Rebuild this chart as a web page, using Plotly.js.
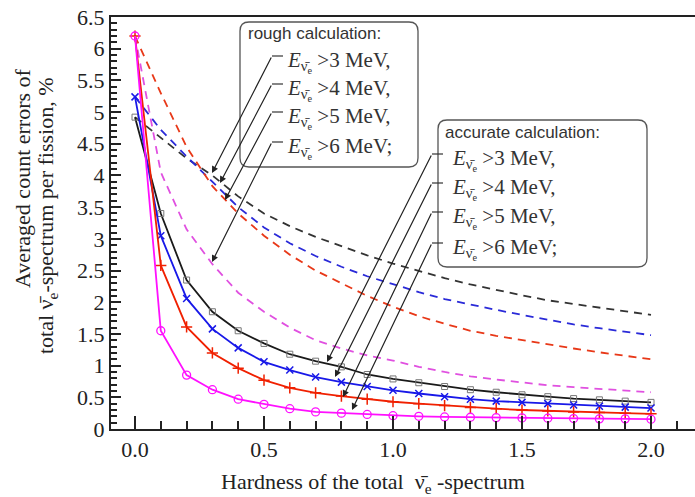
<!DOCTYPE html>
<html><head><meta charset="utf-8">
<script src="https://cdn.plot.ly/plotly-3.0.1.min.js"></script>
<style>html,body{margin:0;padding:0;background:#fff}.modebar-container{display:none!important}</style>
</head><body><div id="chart" style="width:695px;height:497px"></div>
<pre id="dbg" style="position:absolute;left:575px;top:462px;font-size:7px;line-height:8px;color:#888;white-space:pre-wrap;width:118px;margin:0;display:none"></pre>
<script>
// ---- data ----
var hardness = [0.0,0.1,0.2,0.3,0.4,0.5,0.6,0.7,0.8,0.9,1.0,1.1,1.2,1.3,1.4,1.5,1.6,1.7,1.8,1.9,2.0];
// accurate calculation (solid lines with markers)
var accurate3 = [4.92,3.40,2.35,1.85,1.55,1.35,1.18,1.07,0.98,0.86,0.79,0.73,0.67,0.62,0.58,0.54,0.51,0.48,0.46,0.44,0.42];
var accurate4 = [5.24,3.05,2.06,1.58,1.28,1.06,0.93,0.82,0.74,0.67,0.61,0.56,0.51,0.47,0.44,0.42,0.40,0.38,0.36,0.345,0.33];
var accurate5 = [6.20,2.58,1.61,1.20,0.96,0.77,0.65,0.57,0.52,0.47,0.43,0.40,0.37,0.34,0.32,0.30,0.285,0.27,0.26,0.25,0.24];
var accurate6 = [6.20,1.55,0.85,0.62,0.47,0.39,0.32,0.27,0.25,0.23,0.21,0.20,0.19,0.185,0.18,0.175,0.17,0.165,0.16,0.16,0.155];
// rough calculation (dashed lines)
var rough3 = [4.92,4.60,4.27,4.00,3.67,3.40,3.20,3.03,2.88,2.74,2.61,2.49,2.38,2.28,2.19,2.11,2.03,1.97,1.91,1.85,1.80];
var rough4 = [5.24,4.72,4.30,3.90,3.50,3.18,2.93,2.73,2.56,2.41,2.28,2.16,2.05,1.96,1.88,1.80,1.72,1.65,1.59,1.53,1.48];
var rough5 = [6.20,5.30,4.45,3.83,3.40,3.05,2.75,2.50,2.30,2.10,1.93,1.78,1.66,1.55,1.47,1.40,1.33,1.27,1.21,1.15,1.10];
var rough6 = [6.20,4.05,3.15,2.60,2.15,1.85,1.60,1.40,1.27,1.16,1.08,0.98,0.90,0.83,0.78,0.73,0.69,0.66,0.63,0.60,0.58];
var thresholds = ['>3 MeV,','>4 MeV,','>5 MeV,','>6 MeV;'];

(function(){
var dbg=[]; function note(s){dbg.push(s);}
function flush(){ if(dbg.length){var e=document.getElementById('dbg');e.style.display='block';e.textContent=dbg.join('\n');} }
window.onerror=function(m,s,l,c){note('ERR '+m+' @'+l);flush();};

var SERIF = 'Liberation Serif';
var SANS = 'Liberation Sans';
var solidColors = ['#1a1a1a','#1818e8','#f02000','#ff10ff'];
var dashColors = ['#333333','#2a2ad8','#e83818','#e050e0'];
var markerStyles = [
  {symbol:'square-open', size:6, color:'#777'},
  {symbol:'x-thin-open', size:7, color:'#1818e8', line:{width:1.5,color:'#1818e8'}},
  {symbol:'cross-thin-open', size:8, color:'#f02000', line:{width:1.5,color:'#f02000'}},
  {symbol:'circle-open', size:8, color:'#ff10ff', line:{width:1.3,color:'#ff10ff'}}
];
var accurate = [accurate3,accurate4,accurate5,accurate6];
var rough = [rough3,rough4,rough5,rough6];

var data = [];
rough.forEach(function(ys,i){data.push({x:hardness,y:ys,type:'scatter',mode:'lines',
  line:{color:dashColors[i],width:1.8,dash:'8px,6px'}});});
accurate.forEach(function(ys,i){data.push({x:hardness,y:ys,type:'scatter',mode:'lines+markers',
  line:{color:solidColors[i],width:1.8},marker:markerStyles[i]});});

var L=111, T=17, W=584, H=412;
function fx(v){return (v-L)/W;} function fy(v){return (T+H-v)/H;}
function rrect(x0,y0,x1,y1,r){
  var rx=r/W, ry=r/H, a=fx(x0), b=fx(x1), c=fy(y0), d=fy(y1);
  return 'M '+(a+rx)+','+c+' L '+(b-rx)+','+c+' Q '+b+','+c+' '+b+','+(c-ry)+' L '+b+','+(d+ry)+' Q '+b+','+d+' '+(b-rx)+','+d+
    ' L '+(a+rx)+','+d+' Q '+a+','+d+' '+a+','+(d+ry)+' L '+a+','+(c-ry)+' Q '+a+','+c+' '+(a+rx)+','+c+' Z';
}
var shp = [
  {type:'path',xref:'paper',yref:'paper',path:rrect(240,22,418,167,9),line:{color:'#555',width:1.3}},
  {type:'path',xref:'paper',yref:'paper',path:rrect(438,120,647,267,9),line:{color:'#555',width:1.3}}
];
var ann = [];
function addLabel(x,y,text,font){
  ann.push({xref:'paper',yref:'paper',x:fx(x),y:fy(y),xanchor:'left',yanchor:'middle',text:text,showarrow:false,font:font});
}
function addLeader(tx,ty,hx,hy){
  shp.push({type:'line',xref:'paper',yref:'paper',x0:fx(tx),y0:fy(ty),x1:fx(tx+11),y1:fy(ty),line:{color:'#333',width:1.2}});
  ann.push({xref:'paper',yref:'paper',x:fx(hx),y:fy(hy),ax:tx-hx,ay:ty-hy,text:'',showarrow:true,
    arrowhead:2,arrowsize:1.1,arrowwidth:1.2,arrowcolor:'#222'});
}
var eFont = {family:SERIF,size:21,color:'#333'};
function eText(t){return '<i>E</i><sub>ν\u0304<sub>e</sub></sub> '+t;}

addLabel(246,34,'rough calculation:',{family:SANS,size:17,color:'#333'});
var roughRows=[62,90,118,148], roughTips=[[212,173],[220,183],[225,200],[212,262]];
thresholds.forEach(function(t,i){addLabel(285,roughRows[i],eText(t),eFont); addLeader(272,roughRows[i]-6,roughTips[i][0],roughTips[i][1]);});

addLabel(443,132,'accurate calculation:',{family:SANS,size:17,color:'#333'});
var accRows=[160,189,218,249], accTips=[[327,362],[335,377],[343,397],[352,410]];
thresholds.forEach(function(t,i){addLabel(450,accRows[i],eText(t),eFont); addLeader(432,accRows[i]-6,accTips[i][0],accTips[i][1]);});

ann.push({xref:'paper',yref:'paper',x:fx(22),y:fy(178),textangle:-90,xanchor:'center',yanchor:'middle',
  text:'Averaged count errors of',showarrow:false,font:{family:SERIF,size:22,color:'#222'}});
ann.push({xref:'paper',yref:'paper',x:fx(47),y:fy(216),textangle:-90,xanchor:'center',yanchor:'middle',
  text:'total ν\u0304<sub>e</sub>-spectrum per fission, %',showarrow:false,font:{family:SERIF,size:22,color:'#222'}});
ann.push({xref:'paper',yref:'paper',x:fx(373),y:fy(483),xanchor:'center',yanchor:'middle',
  text:'Hardness of the total  ν\u0304<sub>e</sub> -spectrum',showarrow:false,font:{family:SERIF,size:22,color:'#222'}});

var TICKC='#222';
var lay = {
  width:695,height:497,margin:{l:L,r:0,t:T,b:497-T-H},showlegend:false,
  paper_bgcolor:'#ffffff',plot_bgcolor:'#ffffff',
  xaxis:{range:[(L-135)/258,(L+W-135)/258],showgrid:false,zeroline:false,showline:true,linecolor:TICKC,linewidth:2,mirror:true,
    ticks:'inside',ticklen:13,tickwidth:1.6,tickcolor:TICKC,dtick:0.5,tickformat:'.1f',
    minor:{ticks:'inside',dtick:0.1,ticklen:8,tickwidth:1.5,tickcolor:TICKC},
    tickfont:{family:SERIF,size:22,color:'#222'}},
  yaxis:{range:[0,6.5],showgrid:false,zeroline:false,showline:true,linecolor:TICKC,linewidth:2,
    ticks:'inside',ticklen:10,tickwidth:1.6,tickcolor:TICKC,dtick:0.5,
    minor:{ticks:'inside',dtick:0.1,ticklen:6,tickwidth:1.5,tickcolor:TICKC},
    tickfont:{family:SERIF,size:22,color:'#222'}},
  shapes:shp,annotations:ann
};
var gd=document.getElementById('chart');

function tickStyled(){
  var p=gd.querySelector('path.ytick'); return !!p && /stroke/.test(p.getAttribute('style')||'');
}
function labelStyled(){
  var t=gd.querySelector('.ytick text'); return !!t && /Liberation Serif/.test(t.getAttribute('style')||'');
}
// safety net: give Plotly's own tick marks and tick labels the axis style if they came out unstyled
function ensureStyles(){
  ['x','y'].forEach(function(a){
    var ax = a==='x'?lay.xaxis:lay.yaxis;
    gd.querySelectorAll('path.'+a+'tick').forEach(function(p){
      var s=p.getAttribute('style')||'';
      if(!/stroke/.test(s)){ p.style.stroke=ax.tickcolor; p.style.strokeOpacity='1'; p.style.strokeWidth=(p.classList.contains('ticks')?1.6:1.6)+'px'; }
    });
    gd.querySelectorAll('.'+a+'tick text').forEach(function(t){
      var s=t.getAttribute('style')||'';
      if(!/font-family/.test(s)){ t.style.fontFamily=ax.tickfont.family; t.style.fontSize=ax.tickfont.size+'px'; t.style.fill=ax.tickfont.color; }
    });
  });
  gd.querySelectorAll('.annotation-text').forEach(function(t){
    var s=t.getAttribute('style')||'';
    if(!/font-family/.test(s)){ t.style.fontFamily=SERIF; t.style.fontSize='22px'; t.style.fill='#222'; }
  });
}

Plotly.newPlot(gd,data,lay).then(function(){
  if(tickStyled() && labelStyled()) return;
  note('unstyled after newPlot: tick='+tickStyled()+' lab='+labelStyled());
  // force Plotly to re-create the tick marks and labels
  return Plotly.relayout(gd,{'xaxis.ticks':'','yaxis.ticks':'','xaxis.minor.ticks':'','yaxis.minor.ticks':'',
      'xaxis.showticklabels':false,'yaxis.showticklabels':false})
    .then(function(){ return Plotly.relayout(gd,{'xaxis.ticks':'inside','yaxis.ticks':'inside','xaxis.minor.ticks':'inside','yaxis.minor.ticks':'inside',
      'xaxis.showticklabels':true,'yaxis.showticklabels':true}); })
    .then(function(){ note('after toggle: tick='+tickStyled()+' lab='+labelStyled()); });
}).catch(function(e){ note('CATCH '+(e&&e.message?e.message:e)); })
.then(function(){ ensureStyles(); flush(); });
})();
</script></body></html>
